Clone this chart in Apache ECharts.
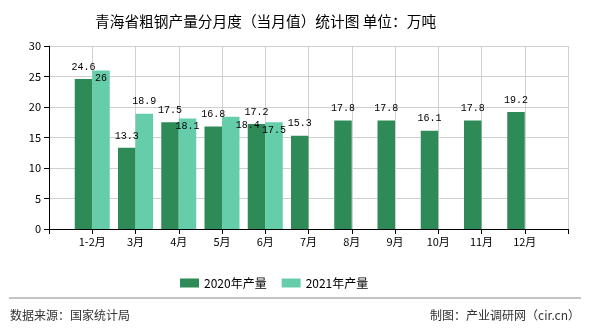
<!DOCTYPE html>
<html><head><meta charset="utf-8">
<script src="https://cdn.jsdelivr.net/npm/echarts@6/dist/echarts.min.js"></script>
<style>html,body{margin:0;padding:0;background:#fff}#c{width:590px;height:330px}</style>
</head><body><div id="c"></div>
<script>
const months = ['1-2月','3月','4月','5月','6月','7月','8月','9月','10月','11月','12月'];
const prod2020 = [24.6, 13.3, 17.5, 16.8, 17.2, 15.3, 17.8, 17.8, 16.1, 17.8, 19.2];
const prod2021 = [26, 18.9, 18.1, 18.4, 17.5];
const yTicks = [0, 5, 10, 15, 20, 25, 30];
const seriesNames = ['2020年产量', '2021年产量'];
const titleText = '青海省粗钢产量分月度（当月值）统计图 单位：万吨';
const sourceText = '数据来源：国家统计局';
const makerText = '制图：产业调研网（cir.cn）';

const cats = [''].concat(months, ['']);
function pad(arr){ const out = ['-']; for (let i=0;i<months.length;i++) out.push(i<arr.length?arr[i]:'-'); out.push('-'); return out; }
const insideIdx = {1:true, 3:true, 5:true}; // padded indices for 2021 labels drawn inside
const movedIdx = 4; // padded index of the displaced 2021 label
const d2021 = pad(prod2021).map((v,i)=>{
  if (v==='-') return v;
  if (insideIdx[i]) return {value:v, label:{position:'insideTop', distance:3}};
  if (i===movedIdx) return {value:v, labelLine:{show:true, lineStyle:{color:'#000', width:1}}};
  return v;
});
const mono = 'Liberation Mono';
const cjk = '"Noto Sans CJK SC", sans-serif';
const chart = echarts.init(document.getElementById('c'));
chart.setOption({
  animation:false,
  backgroundColor:'#fff',
  title:{text:titleText, left:90, top:9, textStyle:{fontSize:14.7, fontWeight:'normal', color:'#000', fontFamily:cjk}},
  grid:{left:49, right:22, top:46, bottom:101},
  legend:{left:175, top:272, itemWidth:19, itemHeight:9, itemGap:15, icon:'rect',
    textStyle:{fontSize:12, color:'#000', fontFamily:cjk}, data:seriesNames},
  xAxis:{type:'category', data:cats, boundaryGap:false,
    axisLine:{lineStyle:{color:'#000'}}, axisTick:{show:true, length:5, lineStyle:{color:'#000'}},
    axisLabel:{color:'#000', fontSize:11, fontFamily:cjk, margin:7, interval:0},
    splitLine:{show:true, lineStyle:{color:'#d0d0d0'}}},
  yAxis:{type:'value', min:yTicks[0], max:yTicks[yTicks.length-1], interval:5,
    axisLine:{show:true, lineStyle:{color:'#000'}}, axisTick:{show:true, length:5, lineStyle:{color:'#000'}},
    axisLabel:{color:'#000', fontSize:11, fontFamily:cjk, margin:8},
    splitLine:{lineStyle:{color:'#d0d0d0'}}},
  series:[
    {name:seriesNames[0], type:'bar', data:pad(prod2020), barWidth:17.5, barGap:'0%',
     itemStyle:{color:'#2E8B57'},
     label:{show:true, position:'top', distance:7, color:'#000', fontSize:10, fontFamily:mono}},
    {name:seriesNames[1], type:'bar', data:d2021, barWidth:17.5, barGap:'0%',
     itemStyle:{color:'#66CDAA'},
     label:{show:true, position:'top', distance:7, color:'#000', fontSize:10, fontFamily:mono},
     labelLayout:function(p){ if (p.dataIndex===movedIdx) return {dx:17, dy:21}; return {}; }}
  ],
  graphic:[
    {type:'line', shape:{x1:9, y1:298, x2:581, y2:298}, style:{stroke:'#888', lineWidth:1}},
    {type:'text', left:10, top:309, style:{text:sourceText, fill:'#333', fontSize:12, fontFamily:cjk}},
    {type:'text', right:10, top:309, style:{text:makerText, fill:'#333', fontSize:12, fontFamily:cjk}}
  ]
});
</script></body></html>
